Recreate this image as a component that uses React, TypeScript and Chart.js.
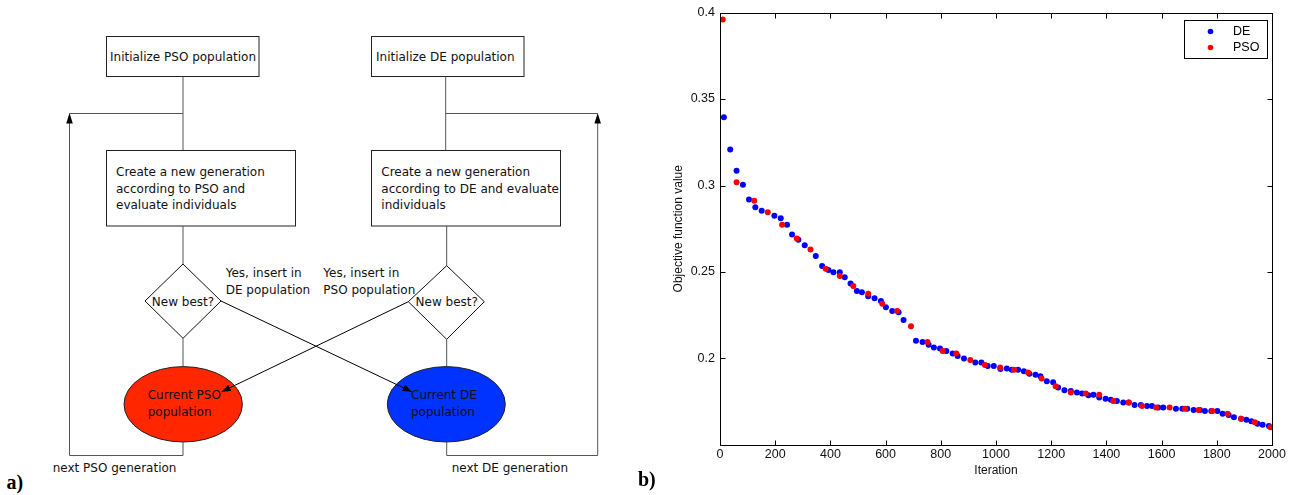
import React, { useEffect, useRef } from "react";
import { Chart, registerables } from "chart.js";

Chart.register(...registerables);

// ---- Data ----
const deIterations = [14, 37, 60, 83, 105, 128, 151, 197, 220, 243, 261, 284, 307, 347, 370, 393, 411, 434, 452, 473, 496, 514, 537, 560, 583, 601, 624, 647, 665, 710, 734, 756, 775, 797, 820, 843, 861, 884, 925, 947, 970, 992, 1016, 1039, 1057, 1080, 1101, 1121, 1143, 1161, 1184, 1207, 1225, 1248, 1271, 1293, 1312, 1335, 1353, 1374, 1397, 1416, 1438, 1461, 1481, 1502, 1525, 1547, 1565, 1588, 1606, 1652, 1675, 1693, 1716, 1739, 1757, 1780, 1802, 1821, 1843, 1862, 1888, 1907, 1925, 1948, 1966, 1989];
const deValues = [0.3394, 0.3208, 0.3085, 0.3004, 0.2919, 0.2875, 0.2854, 0.2825, 0.281, 0.2773, 0.2717, 0.2687, 0.2655, 0.2592, 0.2535, 0.2512, 0.2498, 0.2498, 0.2469, 0.2433, 0.239, 0.2383, 0.236, 0.2348, 0.2333, 0.2296, 0.2275, 0.2267, 0.2223, 0.2102, 0.2096, 0.2079, 0.2063, 0.2058, 0.2044, 0.2029, 0.2015, 0.2, 0.1977, 0.1977, 0.1956, 0.1956, 0.194, 0.1942, 0.1935, 0.1935, 0.1927, 0.1912, 0.1906, 0.1898, 0.1869, 0.1862, 0.1833, 0.1817, 0.1812, 0.1804, 0.1798, 0.1788, 0.179, 0.1775, 0.1767, 0.1762, 0.1754, 0.1746, 0.1746, 0.1731, 0.1731, 0.1725, 0.1725, 0.1717, 0.1717, 0.171, 0.171, 0.171, 0.1702, 0.1702, 0.1696, 0.1696, 0.1696, 0.1681, 0.1673, 0.166, 0.1652, 0.1646, 0.1638, 0.1623, 0.1617, 0.161];
const psoIterations = [10, 60, 124, 173, 225, 278, 328, 383, 434, 483, 537, 588, 642, 692, 752, 807, 856, 907, 960, 1015, 1065, 1116, 1165, 1216, 1271, 1325, 1374, 1425, 1481, 1529, 1580, 1629, 1685, 1734, 1784, 1839, 1888, 1938, 1994];
const psoValues = [0.396, 0.3019, 0.2912, 0.2846, 0.2773, 0.2694, 0.263, 0.2519, 0.2477, 0.2419, 0.2375, 0.2317, 0.2275, 0.2187, 0.2096, 0.2044, 0.2029, 0.1992, 0.1963, 0.1948, 0.1935, 0.1919, 0.1885, 0.184, 0.1804, 0.1798, 0.179, 0.1754, 0.1746, 0.1725, 0.1717, 0.1717, 0.171, 0.1702, 0.1696, 0.1681, 0.1652, 0.1631, 0.1602];
const yTickValues = [0.2, 0.25, 0.3, 0.35, 0.4];
const seriesNames = ["DE", "PSO"];
const xTitle = "Iteration";
const yTitle = "Objective function value";

const CHART_FONT = "'Liberation Sans', Arial, Helvetica, sans-serif";

const boxPlugin = {
  id: "matlabBox",
  afterDraw(chart: any) {
    const { ctx, chartArea: a, scales } = chart;
    const L = Math.round(a.left) + 0.5;
    const R = Math.round(a.right) + 0.5;
    const T = Math.round(a.top) + 0.5;
    const B = Math.round(a.bottom) + 0.5;
    ctx.save();
    ctx.strokeStyle = "#000";
    ctx.lineWidth = 1;
    ctx.strokeRect(L, T, R - L, B - T);
    const tl = 5;
    ctx.beginPath();
    scales.x.ticks.forEach((t: any) => {
      const px = Math.round(scales.x.getPixelForValue(t.value)) + 0.5;
      ctx.moveTo(px, B); ctx.lineTo(px, B - tl);
      ctx.moveTo(px, T); ctx.lineTo(px, T + tl);
    });
    scales.y.ticks.forEach((t: any) => {
      const py = Math.round(scales.y.getPixelForValue(t.value)) + 0.5;
      ctx.moveTo(L, py); ctx.lineTo(L + tl, py);
      ctx.moveTo(R, py); ctx.lineTo(R - tl, py);
    });
    ctx.stroke();

    // legend box (top-right, inside the axes)
    const bw = 83, bh = 38;
    const bx = Math.round(a.right - 88) + 0.5;
    const by = Math.round(a.top + 7) + 0.5;
    ctx.fillStyle = "#fff";
    ctx.fillRect(bx, by, bw, bh);
    ctx.strokeRect(bx, by, bw, bh);
    const order = [1, 0];
    ctx.font = `12.5px ${CHART_FONT}`;
    ctx.textBaseline = "middle";
    ctx.textAlign = "left";
    order.forEach((di, k) => {
      const ds = chart.data.datasets[di];
      const cy = by + 11 + k * 16;
      ctx.fillStyle = ds.backgroundColor;
      ctx.beginPath();
      ctx.arc(bx + 26, cy, 2.8, 0, Math.PI * 2);
      ctx.fill();
      ctx.fillStyle = "#000";
      ctx.fillText(ds.label, bx + 48.5, cy + 0.5);
    });
    ctx.restore();
  },
};

function ScatterPanel() {
  const ref = useRef<HTMLCanvasElement | null>(null);
  useEffect(() => {
    if (!ref.current) return;
    const chart = new Chart(ref.current, {
      type: "scatter",
      data: {
        datasets: [
          {
            label: seriesNames[1],
            data: psoIterations.map((x, i) => ({ x, y: psoValues[i] })),
            backgroundColor: "#ff0000",
            borderWidth: 0,
            pointRadius: 3,
            order: 0,
          },
          {
            label: seriesNames[0],
            data: deIterations.map((x, i) => ({ x, y: deValues[i] })),
            backgroundColor: "#0000ff",
            borderWidth: 0,
            pointRadius: 3,
            order: 1,
          },
        ],
      },
      plugins: [boxPlugin],
      options: {
        responsive: false,
        animation: false,
        layout: { padding: { left: 0, top: 12, right: 34, bottom: 0 } },
        plugins: { legend: { display: false }, tooltip: { enabled: false } },
        scales: {
          x: {
            type: "linear",
            min: 0,
            max: 2000,
            grid: { display: false, drawTicks: false },
            border: { display: false },
            ticks: {
              stepSize: 200,
              autoSkip: false,
              maxRotation: 0,
              padding: 2,
              color: "#111",
              font: { family: CHART_FONT, size: 12.5 },
              callback: (v: any) => String(v),
            },
            title: {
              display: true,
              text: xTitle,
              color: "#111",
              font: { family: CHART_FONT, size: 12 },
              padding: { top: 0, bottom: 17 },
            },
            afterFit: (s: any) => { s.height = 50; },
          },
          y: {
            type: "linear",
            min: 0.15,
            max: 0.4,
            grid: { display: false, drawTicks: false },
            border: { display: false },
            afterBuildTicks: (s: any) => { s.ticks = yTickValues.map((v) => ({ value: v })); },
            ticks: {
              padding: 5,
              color: "#111",
              font: { family: CHART_FONT, size: 12.5 },
              callback: (v: any) => String(+Number(v).toFixed(2)),
            },
            title: {
              display: true,
              text: yTitle,
              color: "#111",
              font: { family: CHART_FONT, size: 12 },
              padding: { top: 31, bottom: 0 },
            },
            afterFit: (s: any) => { s.width = 80; },
          },
        },
      },
    });
    return () => chart.destroy();
  }, []);
  return (
    <canvas
      ref={ref}
      width={666}
      height={495}
      style={{ position: "absolute", left: 640, top: 0, width: 666, height: 495 }}
    />
  );
}

const FF = "'DejaVu Sans', Verdana, sans-serif";
const GRAY = "#555";

function Flowchart() {
  const t = (x: number, y: number, s: string, extra: any = {}) => (
    <text x={x} y={y} fontFamily={FF} fontSize={12} fill="#111" {...extra}>{s}</text>
  );
  return (
    <svg width={640} height={495} style={{ position: "absolute", left: 0, top: 0 }}>
      <defs>
        <marker id="ah" markerWidth="9" markerHeight="7" refX="9" refY="3.5" orient="auto" markerUnits="userSpaceOnUse">
          <path d="M0,0 L9,3.5 L0,7 Z" fill="#000" />
        </marker>
      </defs>
      {/* PSO column */}
      <rect x={106.5} y={36.5} width={152.5} height={40} fill="#fff" stroke="#222" strokeWidth={1} />
      {t(110, 60.5, "Initialize PSO population")}
      <line x1={183} y1={76.5} x2={183} y2={150.5} stroke={GRAY} strokeWidth={1} />
      <line x1={183} y1={113.5} x2={69.5} y2={113.5} stroke={GRAY} strokeWidth={1} />
      <rect x={106.5} y={150.5} width={189} height={75.5} fill="#fff" stroke="#222" strokeWidth={1} />
      {t(116, 176, "Create a new generation")}
      {t(116, 192.7, "according to PSO and")}
      {t(116, 209.4, "evaluate individuals")}
      <line x1={183} y1={226} x2={183} y2={264} stroke={GRAY} strokeWidth={1} />
      <polygon points="183,264 221,301 183,338.3 145,301" fill="#fff" stroke="#111" strokeWidth={1} />
      {t(183, 305.5, "New best?", { textAnchor: "middle" })}
      <line x1={183} y1={338.3} x2={183} y2={366.7} stroke={GRAY} strokeWidth={1} />
      <ellipse cx={183.2} cy={404.3} rx={59.2} ry={37.7} fill="#ff2600" stroke="#222" strokeWidth={1} />
      {t(147.7, 398.5, "Current PSO")}
      {t(147.7, 416, "population")}
      <polyline points="183,442 183,455.5 69.5,455.5 69.5,122" fill="none" stroke={GRAY} strokeWidth={1} />
      <path d="M69.5,113 L72.8,123.5 L66.2,123.5 Z" fill="#000" />
      {t(52.7, 472, "next PSO generation")}
      {t(225.7, 276.7, "Yes, insert in")}
      {t(225.7, 293.7, "DE population")}

      {/* DE column */}
      <rect x={371.5} y={36.5} width={152.5} height={40} fill="#fff" stroke="#222" strokeWidth={1} />
      {t(376, 60.5, "Initialize DE population")}
      <line x1={445.7} y1={76.5} x2={445.7} y2={150.5} stroke={GRAY} strokeWidth={1} />
      <line x1={445.7} y1={113.5} x2={597.7} y2={113.5} stroke={GRAY} strokeWidth={1} />
      <rect x={371.5} y={150.5} width={189} height={75.5} fill="#fff" stroke="#222" strokeWidth={1} />
      {t(381.3, 176, "Create a new generation")}
      {t(381.3, 192.7, "according to DE and evaluate")}
      {t(381.3, 209.4, "individuals")}
      <line x1={446.7} y1={226} x2={446.7} y2={265.7} stroke={GRAY} strokeWidth={1} />
      <polygon points="446.7,265.7 484.3,301.7 446.7,339.3 408.3,301.7" fill="#fff" stroke="#111" strokeWidth={1} />
      {t(446.7, 306, "New best?", { textAnchor: "middle" })}
      <line x1={446.7} y1={339.3} x2={446.7} y2={366.7} stroke={GRAY} strokeWidth={1} />
      <ellipse cx={446.3} cy={404.3} rx={59} ry={37.7} fill="#0033ff" stroke="#222" strokeWidth={1} />
      {t(411, 398.5, "Current DE")}
      {t(411, 416, "population")}
      <polyline points="446.7,442 446.7,455.5 597.7,455.5 597.7,122" fill="none" stroke={GRAY} strokeWidth={1} />
      <path d="M597.7,113 L601,123.5 L594.4,123.5 Z" fill="#000" />
      {t(451.7, 472, "next DE generation")}
      {t(323.3, 276.7, "Yes, insert in")}
      {t(323.3, 293.7, "PSO population")}

      {/* crossing arrows */}
      <line x1={221} y1={301} x2={411.7} y2={391.7} stroke="#000" strokeWidth={1} markerEnd="url(#ah)" />
      <line x1={408.3} y1={301.7} x2={221.7} y2={391.7} stroke="#000" strokeWidth={1} markerEnd="url(#ah)" />

      <text x={6.5} y={489} fontFamily="'Liberation Serif', 'Times New Roman', serif" fontWeight="bold" fontSize={20} fill="#000">a)</text>
    </svg>
  );
}

export default function App() {
  return (
    <div style={{ position: "absolute", left: 0, top: 0, width: 1306, height: 495, background: "#fff", overflow: "hidden" }}>
      <ScatterPanel />
      <Flowchart />
      <div
        style={{
          position: "absolute",
          left: 638,
          top: 467,
          fontFamily: "'Liberation Serif', 'Times New Roman', serif",
          fontWeight: "bold",
          fontSize: 20,
          lineHeight: "24px",
          color: "#000",
        }}
      >
        b)
      </div>
    </div>
  );
}
